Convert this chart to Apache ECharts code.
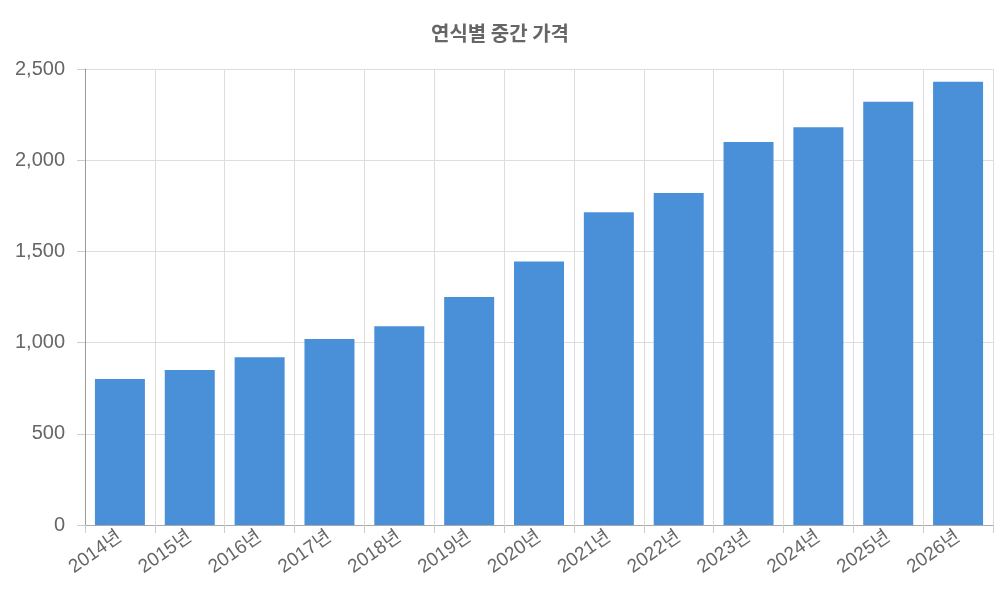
<!DOCTYPE html>
<html><head><meta charset="utf-8">
<script src="https://cdn.jsdelivr.net/npm/echarts@6/dist/echarts.min.js"></script>
<style>html,body{margin:0;padding:0;background:#fff}#c{width:1000px;height:600px}</style>
</head><body><div id="c"></div>
<script>
const titleText = '연식별 중간 가격';
const categories = ['2014년','2015년','2016년','2017년','2018년','2019년','2020년','2021년','2022년','2023년','2024년','2025년','2026년'];
const values = [800, 850, 920, 1020, 1090, 1250, 1445, 1715, 1820, 2100, 2180, 2320, 2430];
const chart = echarts.init(document.getElementById('c'));
chart.setOption({
  animation:false,
  title:{text:titleText,left:'center',top:18,textStyle:{fontFamily:'Noto Sans CJK KR',fontSize:20,fontWeight:'bold',color:'#666'}},
  grid:{left:85,right:7,top:69,bottom:75},
  xAxis:{type:'category',data:categories,
    axisLine:{lineStyle:{color:'#aaa'}},
    axisTick:{show:true,length:8,lineStyle:{color:'#ccc'}},
    splitLine:{show:true,lineStyle:{color:'#ddd'}},
    axisLabel:{rotate:35,fontSize:19,color:'#666',fontFamily:'Liberation Sans, Noto Sans CJK KR',margin:10}},
  yAxis:{type:'value',min:0,max:2500,interval:500,
    axisLine:{show:true,lineStyle:{color:'#999'}},
    axisTick:{show:true,length:8,lineStyle:{color:'#ccc'}},
    splitLine:{lineStyle:{color:'#ddd'}},
    axisLabel:{fontSize:20,color:'#666',fontFamily:'Liberation Sans',margin:20}},
  series:[{type:'bar',data:values,barWidth:50,itemStyle:{color:'#4a90d9'}}]
});
</script></body></html>
